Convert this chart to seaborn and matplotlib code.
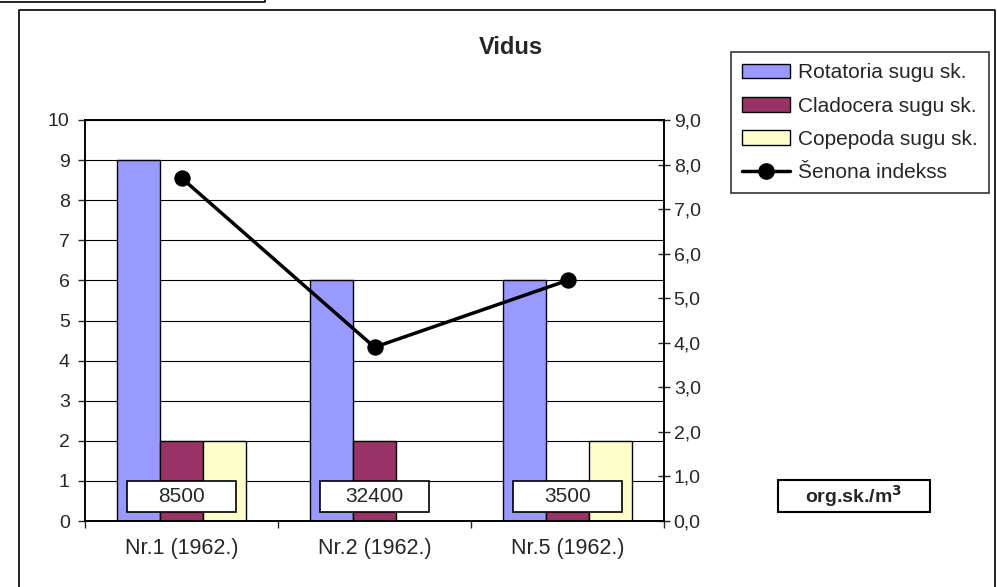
import matplotlib
matplotlib.use('Agg')
import matplotlib.pyplot as plt
from matplotlib.patches import Rectangle, Patch
from matplotlib.lines import Line2D
import pandas as pd
import seaborn as sns

stations = ['Nr.1 (1962.)', 'Nr.2 (1962.)', 'Nr.5 (1962.)']
groups = ['Rotatoria sugu sk.', 'Cladocera sugu sk.', 'Copepoda sugu sk.']
rotatoria = [9, 6, 6]
cladocera = [2, 2, 1]
copepoda = [2, 0, 2]
shannon = [7.7, 3.9, 5.4]
density = ['8500', '32400', '3500']
colors = ['#9999FF', '#993366', '#FFFFCC']

df = pd.DataFrame({
    'station': stations * 3,
    'group': [g for g in groups for _ in stations],
    'count': rotatoria + cladocera + copepoda,
})

sns.set_style('white')
plt.rcParams['font.family'] = ['Liberation Sans', 'DejaVu Sans']
W, H = 997, 587
FS = 14

fig = plt.figure(figsize=(W / 100, H / 100), dpi=100)
ax = fig.add_axes([85 / W, 1 - 521 / H, 579 / W, 401 / H])

sns.barplot(data=df, x='station', y='count', hue='group', palette=colors,
            width=0.667, saturation=1, edgecolor='black', linewidth=1,
            legend=False, ax=ax, zorder=2)
ax.set_xlim(-0.5, 2.5)
ax.set_ylim(0, 10)
ax.set_yticks(range(11))
ax.set_xlabel('')
ax.set_ylabel('')
ax.yaxis.grid(True, color='black', lw=0.8)
ax.set_axisbelow(True)
for s in ax.spines.values():
    s.set_color('black')
    s.set_linewidth(1.2)
ax.tick_params(axis='y', left=True, direction='out', length=5, width=1,
               labelsize=FS, pad=6)
ax.tick_params(axis='x', which='major', length=0, labelsize=15.5, pad=12)
ax.set_xticks([-0.5, 0.5, 1.5, 2.5], minor=True)
ax.tick_params(axis='x', which='minor', bottom=True, direction='out',
               length=5, width=1)

# station density labels
for i, txt in enumerate(density):
    ax.add_patch(Rectangle((i - 0.282, 0.22), 0.564, 0.78, fc='white',
                           ec='black', lw=1.2, zorder=5))
    ax.text(i, 0.61, txt, ha='center', va='center', fontsize=15, zorder=6)

ax2 = ax.twinx()
sns.lineplot(x=[0, 1, 2], y=shannon, ax=ax2, color='black', lw=2.5,
             marker='o', markersize=11, markeredgecolor='black')
ax2.set_ylim(0, 9)
ax2.set_yticks(range(10))
ax2.set_yticklabels([f'{v:.1f}'.replace('.', ',') for v in range(10)])
ax2.set_ylabel('')
ax2.tick_params(axis='y', right=True, direction='inout', length=8, width=1,
                labelsize=FS, pad=3)
for s in ax2.spines.values():
    s.set_color('black')
    s.set_linewidth(1.2)

fig.text(511 / W, 1 - 48 / H, 'Vidus', ha='center', va='center',
         fontsize=17, fontweight='bold')

handles = [Patch(fc=c, ec='black', lw=1) for c in colors]
handles.append(Line2D([], [], color='black', lw=2.5, marker='o', markersize=11))
leg = fig.legend(handles, groups + ['Šenona indekss'], loc='upper left',
                 bbox_to_anchor=(731 / W, 1 - 52 / H), borderaxespad=0,
                 fontsize=15, frameon=True, fancybox=False, handlelength=2.3,
                 handletextpad=0.35, labelspacing=0.68, borderpad=0.55)
leg.get_frame().set_edgecolor('black')
leg.get_frame().set_linewidth(1.2)

# units box
fig.patches.append(Rectangle((778 / W, 1 - 512 / H), 152 / W, 32 / H,
                             transform=fig.transFigure, fc='white',
                             ec='black', lw=1.5))
fig.text(854 / W, 1 - 496 / H, r'org.sk./m$^\mathbf{3}$', ha='center',
         va='center', fontsize=FS, fontweight='bold')

# outer chart frame and the edge of the box above it
fig.add_artist(Line2D([19 / W, 19 / W, 995 / W, 995 / W],
                      [0, 1 - 10 / H, 1 - 10 / H, 0], color='black', lw=1.2))
fig.add_artist(Line2D([0, 265 / W, 265 / W], [1 - 2 / H, 1 - 2 / H, 1],
                      color='black', lw=1.2))

fig.savefig('out.png', dpi=100)
